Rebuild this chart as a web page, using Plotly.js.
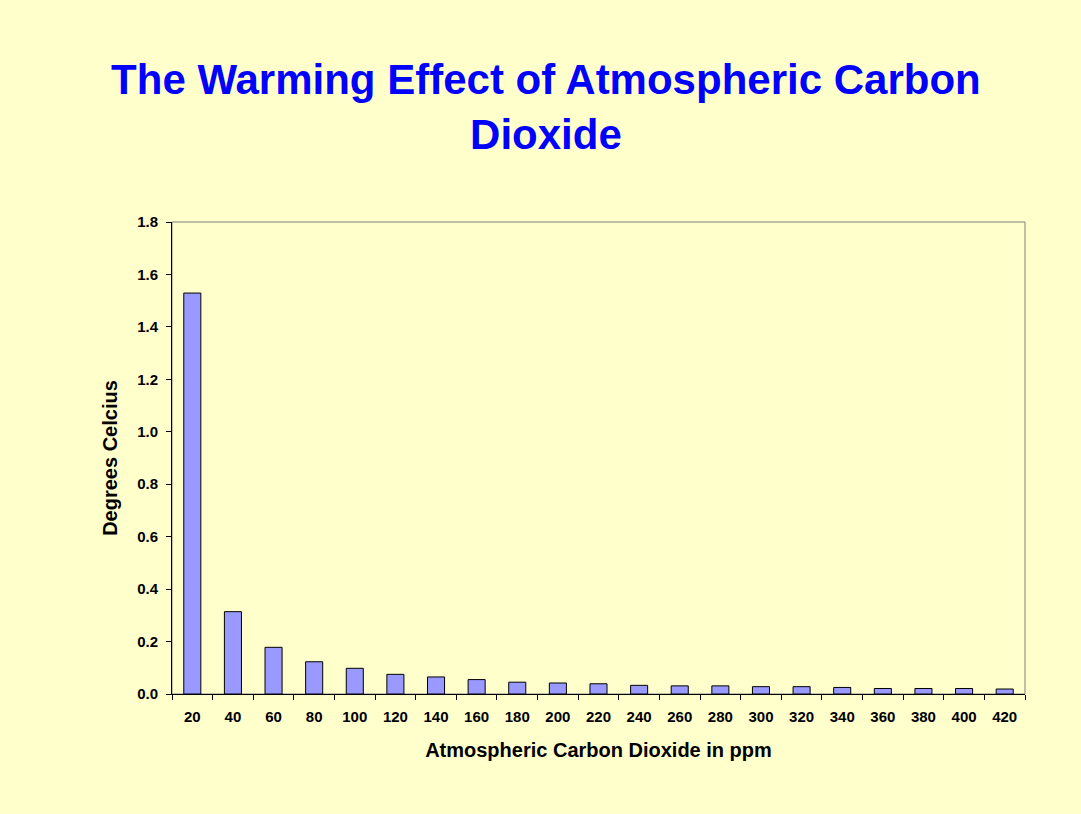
<!DOCTYPE html>
<html>
<head>
<meta charset="utf-8">
<script src="https://cdn.plot.ly/plotly-3.0.1.min.js"></script>
<style>html,body{margin:0;padding:0;background:#FFFFCC;}#chart{width:1081px;height:814px;}</style>
</head>
<body>
<div id="chart"></div>
<script>
const co2ppm = ['20','40','60','80','100','120','140','160','180','200','220','240','260','280','300','320','340','360','380','400','420'];
const warmingDegC = [1.529,0.314,0.178,0.123,0.098,0.075,0.065,0.055,0.045,0.042,0.039,0.033,0.031,0.031,0.028,0.028,0.025,0.021,0.021,0.021,0.019];
const yTickVals = [0,0.2,0.4,0.6,0.8,1.0,1.2,1.4,1.6,1.8];

const font = 'Arial, "Liberation Sans", sans-serif';

const trace = {
  type: 'bar',
  x: co2ppm,
  y: warmingDegC,
  marker: {color: '#9999FF', line: {color: '#000000', width: 1}},
  hoverinfo: 'x+y'
};

const layout = {
  width: 1081, height: 814,
  paper_bgcolor: '#FFFFCC', plot_bgcolor: '#FFFFCC',
  margin: {l: 172, r: 56, t: 222, b: 120},
  showlegend: false,
  bargap: 0.58,
  font: {family: font, color: '#000000'},
  title: {
    text: '<b>The Warming Effect of Atmospheric Carbon<br>Dioxide</b>',
    font: {family: font, size: 42, color: '#0000FF'},
    xref: 'container', yref: 'container', x: 0.505, y: 0.884,
    xanchor: 'center', yanchor: 'middle'
  },
  xaxis: {
    type: 'category',
    showline: true, linecolor: '#000000', linewidth: 1,
    ticks: 'outside', tickson: 'boundaries', ticklen: 5, tickcolor: '#000000',
    ticklabelstandoff: 9,
    tickfont: {family: font, size: 15, color: '#000000', weight: 'bold'},
    showgrid: false, zeroline: false,
    title: {text: '<b>Atmospheric Carbon Dioxide in ppm</b>', font: {family: font, size: 20, color: '#000000'}, standoff: 18}
  },
  yaxis: {
    range: [0, 1.8],
    tickvals: yTickVals, tickformat: '.1f',
    showline: true, linecolor: '#000000', linewidth: 1,
    ticks: 'outside', ticklen: 5, tickcolor: '#000000',
    ticklabelstandoff: 5,
    tickfont: {family: font, size: 15, color: '#000000', weight: 'bold'},
    showgrid: false, zeroline: false,
    title: {text: '<b>Degrees Celcius</b>', font: {family: font, size: 20, color: '#000000'}, standoff: 14}
  },
  shapes: [{
    type: 'rect', xref: 'paper', yref: 'paper', x0: 0, x1: 1, y0: 0, y1: 1,
    line: {color: '#808080', width: 1}, layer: 'below'
  }]
};

Plotly.newPlot('chart', [trace], layout, {displayModeBar: false, staticPlot: true});
</script>
</body>
</html>
